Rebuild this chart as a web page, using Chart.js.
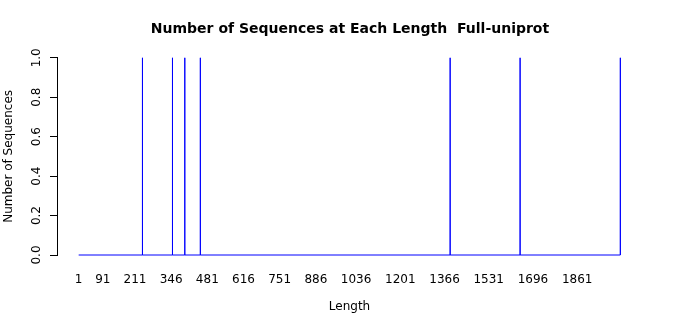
<!DOCTYPE html>
<html>
<head>
<meta charset="utf-8">
<script src="https://cdn.jsdelivr.net/npm/chart.js@4/dist/chart.umd.min.js"></script>
<style>
  html, body { margin: 0; padding: 0; background: #fff; }
  #wrap { width: 700px; height: 315px; }
</style>
</head>
<body>
<div id="wrap"><canvas id="lengths-chart" width="700" height="315"></canvas></div>
<script>
// Sequence lengths that have at least one sequence, and how many
const lengthMin = 1;
const lengthMax = 2022;
const spikeLengths = [239, 351, 397, 455, 1387, 1648, 2022];
const spikeCounts = [1, 1, 1, 1, 1, 1, 1];

// Tick labels shown under the x axis
const xTickLabels = [1, 91, 211, 346, 481, 616, 751, 886, 1036, 1201, 1366, 1531, 1696, 1861];
const yTickLabels = [0, 0.2, 0.4, 0.6, 0.8, 1.0];

// Build the line: baseline at zero with a vertical spike at each length
const points = [{ x: lengthMin, y: 0 }];
spikeLengths.forEach((len, i) => {
  points.push({ x: len, y: 0 }, { x: len, y: spikeCounts[i] }, { x: len, y: 0 });
});
if (spikeLengths[spikeLengths.length - 1] < lengthMax) points.push({ x: lengthMax, y: 0 });

// R pads the x range by 4% on both sides
const pad = (lengthMax - lengthMin) * 0.04;

Chart.defaults.font.family = '"DejaVu Sans", sans-serif';
Chart.defaults.color = '#000';

const ctx = document.getElementById('lengths-chart').getContext('2d');
new Chart(ctx, {
  type: 'line',
  data: {
    datasets: [{
      label: 'Full-uniprot',
      data: points,
      borderColor: '#0000ff',
      borderWidth: 1,
      pointRadius: 0,
      tension: 0,
      fill: false,
      clip: false
    }]
  },
  options: {
    responsive: false,
    animation: false,
    events: [],
    layout: { padding: 0 },
    plugins: {
      legend: { display: false },
      tooltip: { enabled: false },
      title: {
        display: true,
        text: 'Number of Sequences at Each Length  Full-uniprot',
        font: { size: 14, weight: 'bold' },
        color: '#000',
        padding: { top: 21, bottom: 20 }
      }
    },
    scales: {
      x: {
        type: 'linear',
        min: lengthMin - pad,
        max: lengthMax + pad,
        border: { display: false },
        grid: { display: true, drawOnChartArea: false, drawTicks: false, color: 'rgba(0,0,0,0)' },
        ticks: { font: { size: 12 }, maxRotation: 0, minRotation: 0, padding: 18, autoSkip: false, callback: (v) => String(v) },
        afterBuildTicks: (scale) => { scale.ticks = xTickLabels.map(v => ({ value: v })); },
        afterFit: (scale) => { scale.height = 60; },
        title: { display: true, text: 'Length', font: { size: 12 }, padding: { top: 4, bottom: 1 } }
      },
      y: {
        min: 0,
        max: 1,
        border: { display: true, color: '#000', width: 1 },
        grid: { display: true, drawOnChartArea: false, drawTicks: true, tickLength: 7, color: '#000' },
        ticks: {
          font: { size: 12 },
          minRotation: 90,
          maxRotation: 90,
          crossAlign: 'center',
          padding: 4,
          callback: (v) => v.toFixed(1)
        },
        afterBuildTicks: (scale) => { scale.ticks = yTickLabels.map(v => ({ value: v })); },
        afterFit: (scale) => { scale.width = 57; },
        title: { display: true, text: 'Number of Sequences', font: { size: 12 }, padding: { top: 2, bottom: 0 } }
      },
      // empty right-hand margin, like R's plot region
      yRight: {
        position: 'right',
        min: 0,
        max: 1,
        border: { display: false },
        grid: { display: false },
        ticks: { display: false },
        afterFit: (scale) => { scale.width = 58; }
      }
    }
  }
});
</script>
</body>
</html>
